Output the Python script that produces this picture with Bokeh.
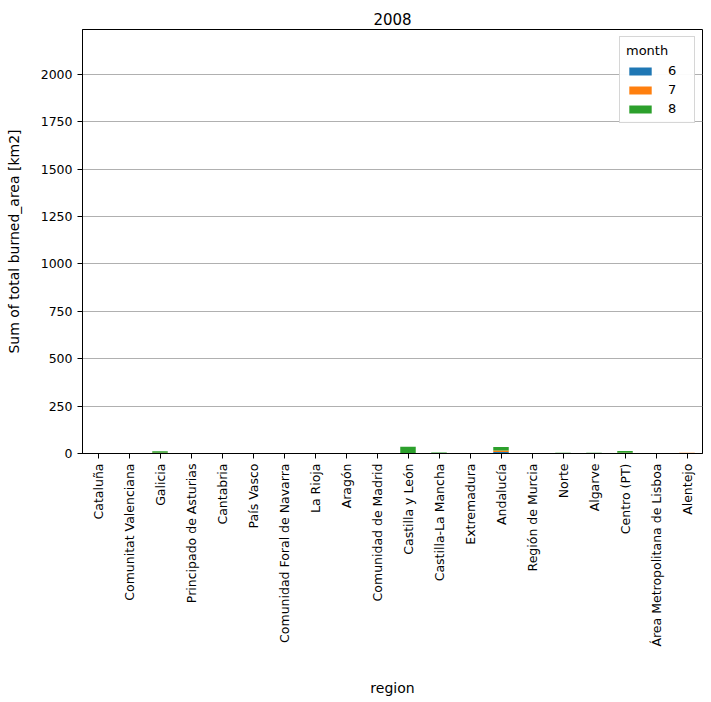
import math
from bokeh.plotting import figure
from bokeh.models import FactorRange, Range1d, FixedTicker, Legend, LegendItem, ColumnDataSource
from bokeh.embed import file_html
from bokeh.resources import INLINE

regions = ["Cataluña", "Comunitat Valenciana", "Galicia", "Principado de Asturias",
           "Cantabria", "País Vasco", "Comunidad Foral de Navarra", "La Rioja", "Aragón",
           "Comunidad de Madrid", "Castilla y León", "Castilla-La Mancha", "Extremadura",
           "Andalucía", "Región de Murcia", "Norte", "Algarve", "Centro (PT)",
           "Área Metropolitana de Lisboa", "Alentejo"]
months = ["6", "7", "8"]
m6 = [0, 0, 0.5, 0, 0, 0, 0, 0, 0, 0, 0, 0, 0, 8, 0, 0, 0, 0.5, 0, 0]
m7 = [0, 0, 4, 0, 0, 0, 0, 0, 0, 0, 1, 0, 0, 8, 0, 0, 0, 4, 0, 4]
m8 = [0, 0, 8, 0, 0, 0, 0, 0, 0, 0, 34, 5, 0, 18, 0, 4, 4, 9, 0, 0]
colors = ["#1f77b4", "#ff7f0e", "#2ca02c"]
yticks = [0, 250, 500, 750, 1000, 1250, 1500, 1750, 2000]

src = ColumnDataSource(dict(region=regions, **{"6": m6, "7": m7, "8": m8}))

p = figure(width=711, height=702, x_range=FactorRange(*regions, range_padding=0),
           y_range=Range1d(0, 2237), output_backend="svg", toolbar_location=None,
           title="2008", min_border_left=82, min_border_right=9, min_border_top=29,
           min_border_bottom=249)
p.title.align = "center"
p.title.text_font = "DejaVu Sans"
p.title.text_font_size = "15px"
p.title.text_font_style = "normal"
p.title.text_color = "black"
p.title.offset = 0

renderers = p.vbar_stack(months, x="region", width=0.5, color=colors, source=src,
                         line_width=0)

p.xgrid.visible = False
p.ygrid.grid_line_color = "#b0b0b0"
p.ygrid.grid_line_width = 1
p.yaxis.ticker = FixedTicker(ticks=yticks)
p.outline_line_color = "black"
p.outline_line_width = 1

for ax in (p.xaxis, p.yaxis):
    ax.major_label_text_font = "DejaVu Sans"
    ax.major_label_text_font_size = "12.5px"
    ax.major_label_text_color = "black"
    ax.axis_label_text_font = "DejaVu Sans"
    ax.axis_label_text_font_size = "14px"
    ax.axis_label_text_font_style = "normal"
    ax.axis_label_text_color = "black"
    ax.minor_tick_line_color = None
    ax.major_tick_out = 5
    ax.major_tick_in = 0
    ax.axis_line_color = "black"
    ax.major_tick_line_color = "black"

p.xaxis.major_label_orientation = math.pi / 2
p.xaxis.axis_label = "region"
p.xaxis.axis_label_standoff = 30
p.yaxis.axis_label = "Sum of total burned_area [km2]"
p.yaxis.axis_label_standoff = 16
p.xaxis.group_text_font_size = "0px"

legend = Legend(items=[LegendItem(label=m, renderers=[r]) for m, r in zip(months, renderers)],
                location="top_right", title="month")
legend.title_text_font = "DejaVu Sans"
legend.title_text_font_size = "13px"
legend.title_text_font_style = "normal"
legend.title_text_color = "black"
legend.label_text_font = "DejaVu Sans"
legend.label_text_font_size = "13px"
legend.label_text_color = "black"
legend.border_line_color = "#cccccc"
legend.border_line_alpha = 0.8
legend.glyph_width = 28
legend.glyph_height = 10
legend.spacing = 4
legend.padding = 6
legend.margin = 7
legend.label_standoff = 14
p.add_layout(legend)

open("out.html", "w").write(file_html(p, INLINE))
